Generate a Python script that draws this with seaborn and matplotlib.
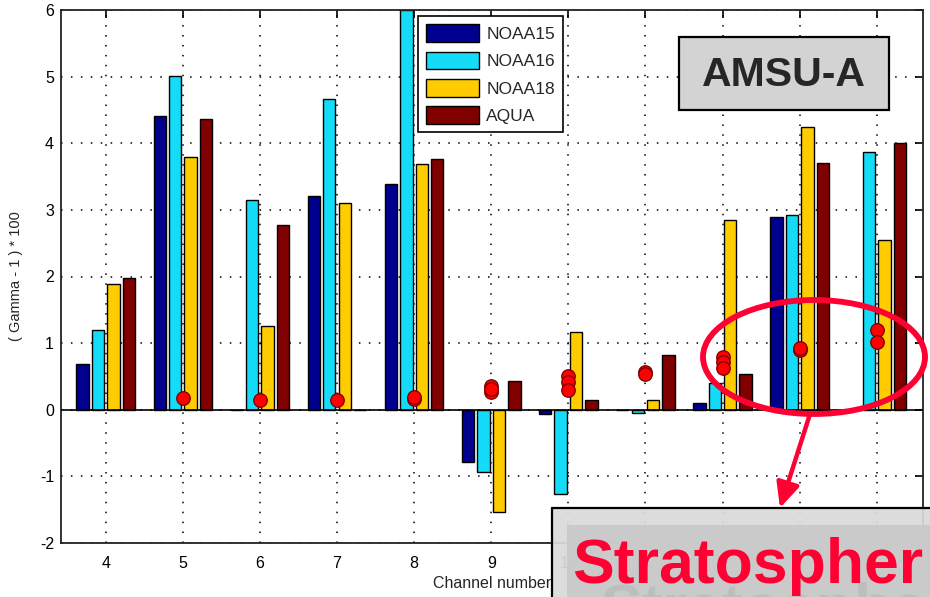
import numpy as np
import pandas as pd
import matplotlib
matplotlib.use("Agg")
import matplotlib.pyplot as plt
import seaborn as sns
from matplotlib.patches import Rectangle, Ellipse

### Data
channels = [4, 5, 6, 7, 8, 9, 10, 11, 12, 13, 14]
satellites = ["NOAA15", "NOAA16", "NOAA18", "AQUA"]
noaa15 = [0.69, 4.41, 0.0, 3.21, 3.39, -0.78, -0.07, 0.0, 0.10, 2.90, 0.0]
noaa16 = [1.19, 5.01, 3.15, 4.67, 6.00, -0.94, -1.26, -0.05, 0.40, 2.93, 3.87]
noaa18 = [1.88, 3.80, 1.25, 3.11, 3.69, -1.54, 1.17, 0.15, 2.85, 4.25, 2.55]
aqua = [1.97, 4.37, 2.78, 0.0, 3.77, 0.43, 0.15, 0.82, 0.54, 3.70, 4.01]

dot_channels = [5, 6, 7, 8, 8, 9, 9, 9, 10, 10, 10, 11, 11, 12, 12, 12, 13, 13, 14, 14]
dot_values = [0.18, 0.14, 0.15, 0.16, 0.19, 0.36, 0.26, 0.31, 0.51, 0.42, 0.29,
              0.57, 0.53, 0.79, 0.71, 0.63, 0.89, 0.93, 1.20, 1.02]

colors = ["#00008F", "#14DCF8", "#FFCC00", "#800000"]
RED = "#FF0033"

W, H = 930, 597


def px(x, y):
    # figure pixel (from top-left) -> figure fraction
    return x / W, 1 - y / H


df = pd.DataFrame({
    "channel": channels * 4,
    "sat": np.repeat(satellites, len(channels)),
    "value": noaa15 + noaa16 + noaa18 + aqua,
})

sns.set_style("white")
plt.rcParams["font.family"] = ["Liberation Sans", "DejaVu Sans"]
plt.rcParams["axes.unicode_minus"] = False

fig = plt.figure(figsize=(W / 100, H / 100), dpi=100)
ax = fig.add_axes([61 / W, 54 / H, 862 / W, 533 / H])

sns.barplot(data=df, x="channel", y="value", hue="sat", hue_order=satellites,
            palette=colors, saturation=1, native_scale=True, errorbar=None,
            gap=0.2, edgecolor="black", linewidth=1, ax=ax, zorder=2)
sns.scatterplot(x=dot_channels, y=dot_values, color="#FF0000", s=95,
                edgecolor="#7A0000", linewidth=0.9, ax=ax, zorder=5, legend=False)

ax.axhline(0, color="black", lw=1.2, zorder=3)
ax.set_xlim(3.42, 14.6)
ax.set_ylim(-2, 6)
ax.set_xticks(channels)
ax.set_xticklabels([str(c) for c in channels])
ax.set_yticks(range(-2, 7))
ax.set_axisbelow(True)
ax.grid(True, color="black", linestyle=(0, (1, 5.5)), linewidth=1.1)
ax.tick_params(direction="in", length=6, width=1.2, top=True, right=True,
               labelsize=11.5, colors="black")
ax.tick_params(axis="x", pad=9)
ax.tick_params(axis="y", pad=5)
for s in ax.spines.values():
    s.set_color("#222222")
    s.set_linewidth(1.3)
ax.set_xlabel("Channel number", fontsize=11.5, labelpad=4)
ax.set_ylabel("( Gamma - 1 ) * 100", fontsize=10.5, labelpad=12)

handles, labels = ax.get_legend_handles_labels()
ax.legend(handles, labels, loc="upper left", bbox_to_anchor=(0.414, 0.988),
          fontsize=12.5, handlelength=3.1, handleheight=1.2, labelspacing=0.55,
          handletextpad=0.4, borderpad=0.45, borderaxespad=0, fancybox=False,
          framealpha=1, edgecolor="black")
ax.get_legend().get_frame().set_linewidth(1.2)

# AMSU-A label box
x0, y0 = px(679, 110)
fig.add_artist(Rectangle((x0, y0), 210 / W, 73 / H, transform=fig.transFigure,
                         facecolor="#D3D3D3", edgecolor="black", lw=1.6, zorder=10))
tx, ty = px(784, 75)
fig.text(tx, ty, "AMSU-A", fontsize=29.5, fontweight="bold", ha="center",
         va="center", zorder=11)

# red ellipse + arrow
ex, ey = px(814, 357)
fig.add_artist(Ellipse((ex, ey), 222 / W, 114 / H, transform=fig.transFigure,
                       fill=False, edgecolor=RED, lw=4.2, zorder=12))
ax.annotate("", xy=px(780, 508), xycoords="figure fraction",
            xytext=px(810, 414), textcoords="figure fraction",
            arrowprops=dict(arrowstyle="-|>,head_length=1.5,head_width=0.7",
                            color=RED, lw=3.2, shrinkA=0, shrinkB=0),
            zorder=12)

# Stratosphere banner
bx, by = px(552, 597)
fig.add_artist(Rectangle((bx, by), (W - 552) / W, 89 / H, transform=fig.transFigure,
                         facecolor="#DADADA", edgecolor="none", alpha=0.93, zorder=13))
ix, iy = px(567, 597)
fig.add_artist(Rectangle((ix, iy), (W - 567) / W, 72 / H, transform=fig.transFigure,
                         facecolor="#C9C9C9", edgecolor="none", alpha=0.95, zorder=13))
fig.add_artist(plt.Line2D([bx, 1], [px(0, 508)[1]] * 2, transform=fig.transFigure,
                          color="black", lw=1.6, zorder=14))
fig.add_artist(plt.Line2D([bx, bx], [0, px(0, 508)[1]], transform=fig.transFigure,
                          color="black", lw=1.6, zorder=14))
gx, gy = px(600, 628)
fig.text(gx, gy, "Stratospher", fontsize=45, fontweight="bold", color="#BEBEBE",
         ha="left", va="baseline", zorder=14)
sx, sy = px(572, 583)
fig.text(sx, sy, "Stratospher", fontsize=45, fontweight="bold", color=RED,
         ha="left", va="baseline", zorder=15)

fig.savefig("out.png", dpi=100)
